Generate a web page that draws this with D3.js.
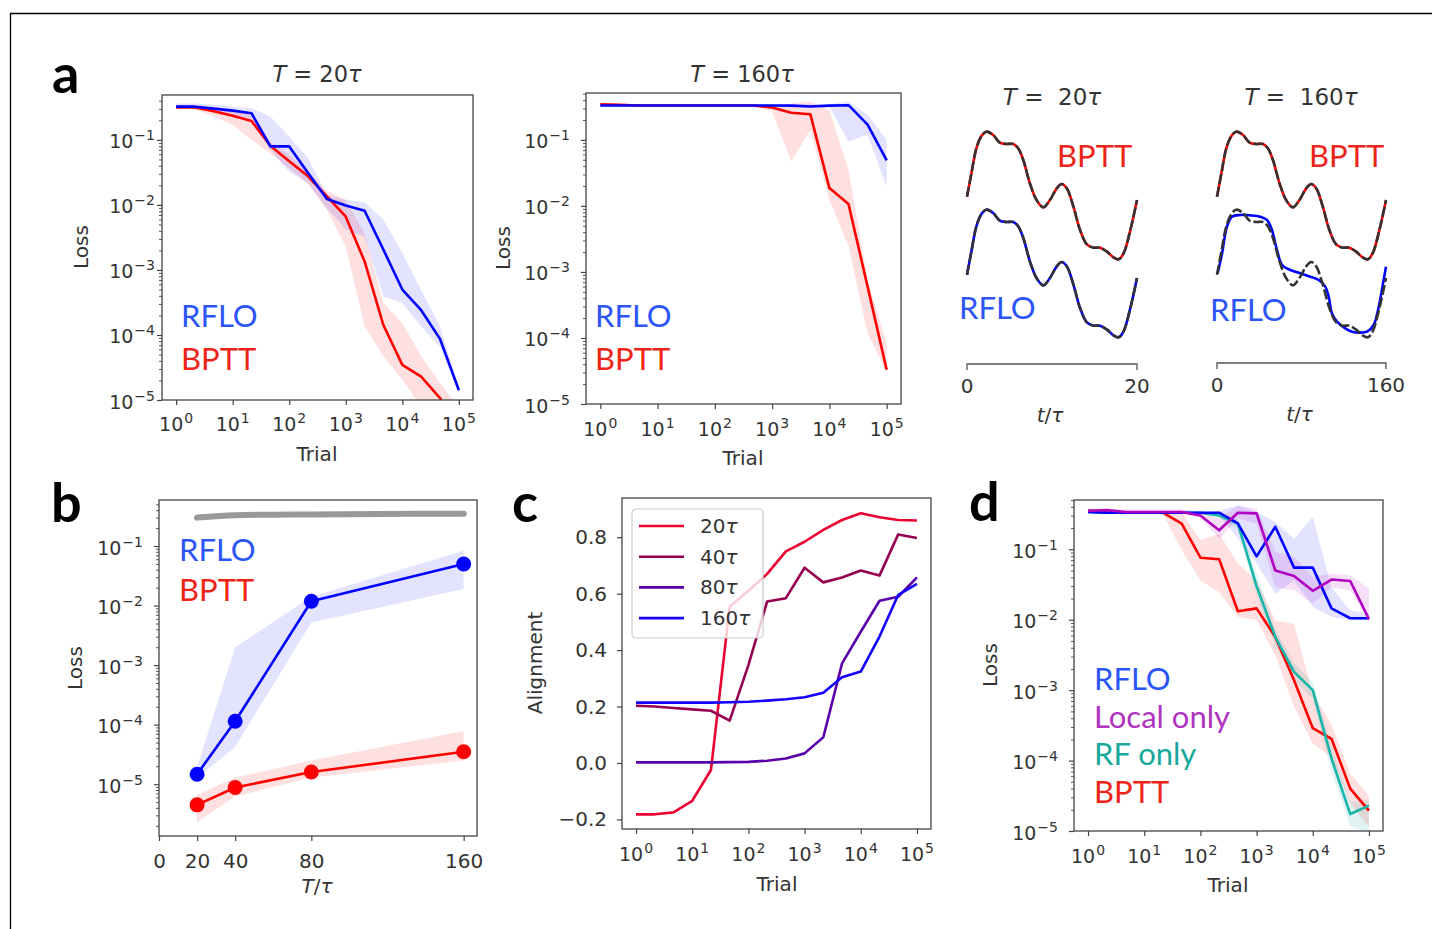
<!DOCTYPE html>
<html>
<head>
<meta charset="utf-8">
<script src="https://cdn.jsdelivr.net/npm/d3@7"></script>
<style>
body { margin: 0; background: #fff; }
svg text { font-family: "DejaVu Sans", sans-serif; fill: #333; }
.tag { font-family: Lato, "Open Sans", sans-serif; }
.letter { font-family: Lato, "Open Sans", sans-serif; font-weight: bold; fill: #000; }
</style>
</head>
<body>
<svg id="fig" width="1432" height="929"></svg>
<script>
// ---- data ----
var trials = [1, 2.154, 4.642, 10, 21.54, 46.42, 100, 215.4, 464.2, 1000, 2154, 4642, 10000, 21544, 46416, 100000];

// a, T = 20 tau
var a20Bptt   = [0.316,0.316,0.275,0.234,0.195,0.0813,0.0468,0.0275,0.0135,0.0066,0.00135,1.41e-4,3.47e-5,2.29e-5,1.07e-5,4.0e-6];
var a20BpttHi = [0.347,0.347,0.309,0.275,0.240,0.0933,0.0589,0.0324,0.0162,0.0120,0.00363,3.1e-4,1.51e-4,4.7e-5,1.82e-5,7.9e-6];
var a20BpttLo = [0.295,0.295,0.229,0.170,0.100,0.0617,0.0363,0.0214,0.00832,0.00229,1.35e-4,4.7e-5,2.04e-5,7.9e-6,4.0e-6,2.5e-6];
var a20Rflo   = [0.324,0.324,0.302,0.282,0.257,0.0794,0.0794,0.0309,0.0123,0.00977,0.00813,0.00204,5.0e-4,2.4e-4,8.7e-5,1.41e-5];
var a20RfloHi = [0.363,0.363,0.347,0.324,0.309,0.229,0.112,0.0525,0.0141,0.0120,0.0110,0.00589,0.00182,4.9e-4,1.35e-4,1.62e-5];
var a20RfloLo = [0.309,0.309,0.275,0.240,0.214,0.0708,0.0324,0.0214,0.00891,0.00417,0.00324,3.9e-4,3.1e-4,1.35e-4,6.6e-5,1.26e-5];

// a, T = 160 tau
var a160Bptt   = [0.347,0.34,0.331,0.331,0.331,0.331,0.331,0.331,0.331,0.309,0.257,0.245,0.0186,0.0107,6.0e-4,3.3e-5];
var a160BpttHi = [0.36,0.355,0.345,0.345,0.345,0.345,0.345,0.345,0.345,0.33,0.355,0.38,0.28,0.035,7.6e-4,8.3e-5];
var a160BpttLo = [0.335,0.325,0.32,0.32,0.32,0.32,0.32,0.32,0.32,0.27,0.047,0.141,0.0123,0.00245,1.17e-4,2.95e-5];
var a160Rflo   = [0.331,0.331,0.331,0.331,0.331,0.331,0.331,0.331,0.331,0.331,0.33,0.32,0.33,0.335,0.170,0.049];
var a160RfloHi = [0.345,0.345,0.345,0.345,0.345,0.345,0.345,0.345,0.345,0.345,0.345,0.345,0.345,0.38,0.24,0.10];
var a160RfloLo = [0.32,0.32,0.32,0.32,0.32,0.32,0.32,0.32,0.32,0.32,0.32,0.32,0.316,0.094,0.12,0.0195];

// a, example outputs (time as fraction of T)
var waveT = [0,0.026,0.055,0.085,0.114,0.154,0.193,0.232,0.272,0.301,0.331,0.370,0.409,0.449,0.488,0.528,0.557,0.587,0.626,0.665,0.705,0.744,0.783,0.823,0.862,0.892,0.921,0.961,1];
var waveY = [1.90,2.60,3.35,3.72,3.85,3.75,3.52,3.48,3.48,3.35,3.00,2.30,1.80,1.58,1.80,2.15,2.28,2.15,1.60,0.90,0.47,0.37,0.37,0.25,0.08,0.02,0.20,0.90,1.80];
var rflo160T = [0.004,0.030,0.059,0.089,0.138,0.197,0.256,0.296,0.325,0.355,0.385,0.434,0.493,0.552,0.602,0.641,0.661,0.680,0.710,0.759,0.799,0.848,0.888,0.927,0.957,0.986,1];
var rflo160Y = [1.94,2.54,3.34,3.64,3.69,3.68,3.64,3.54,3.24,2.64,2.19,2.04,1.94,1.84,1.74,1.54,1.24,0.74,0.49,0.29,0.19,0.16,0.19,0.39,0.94,1.74,2.14];

// b
var bT = [20, 40, 80, 160];
var bTicks = [0, 20, 40, 80, 160];
var bChance = [0.30, 0.33, 0.34, 0.35];
var bRflo   = [1.47e-5, 1.14e-4, 0.0118, 0.050];
var bRfloHi = [1.95e-5, 2.0e-3, 0.014, 0.083];
var bRfloLo = [1.26e-5, 4.2e-5, 0.0052, 0.019];
var bBptt   = [4.5e-6, 8.8e-6, 1.6e-5, 3.5e-5];
var bBpttHi = [6.6e-6, 1.29e-5, 2.5e-5, 7.8e-5];
var bBpttLo = [2.3e-6, 6.2e-6, 1.29e-5, 2.5e-5];

// c
var cNames = ["20", "40", "80", "160"];
var c20  = [-0.182,-0.182,-0.175,-0.134,-0.025,0.554,0.61,0.67,0.75,0.784,0.826,0.861,0.885,0.871,0.861,0.859];
var c40  = [0.203,0.200,0.195,0.190,0.185,0.150,0.347,0.572,0.584,0.692,0.640,0.657,0.682,0.664,0.810,0.797];
var c80  = [0.002,0.002,0.002,0.002,0.002,0.003,0.004,0.008,0.016,0.034,0.091,0.353,0.465,0.575,0.589,0.658];
var c160 = [0.214,0.214,0.214,0.214,0.214,0.215,0.217,0.221,0.226,0.233,0.249,0.304,0.324,0.448,0.596,0.635];
var cTicks = [-0.2, 0, 0.2, 0.4, 0.6, 0.8];

// d
var dBptt    = [0.351,0.331,0.331,0.331,0.331,0.232,0.0759,0.0724,0.0132,0.0145,0.0057,0.00138,2.88e-4,2.04e-4,4.0e-5,1.95e-5];
var dBpttHi  = [0.36,0.34,0.34,0.34,0.34,0.33,0.135,0.166,0.063,0.036,0.0098,0.0087,8.9e-4,3.3e-4,6.5e-5,3.2e-5];
var dBpttLo  = [0.33,0.32,0.32,0.32,0.32,0.097,0.036,0.0245,0.011,0.0098,0.0031,5.8e-4,1.74e-4,1.12e-4,2.45e-5,1.15e-5];
var dRf      = [0.339,0.331,0.331,0.331,0.331,0.331,0.331,0.302,0.232,0.03,0.0057,0.00182,0.001,1.07e-4,1.74e-5,2.29e-5];
var dRfHi    = [0.35,0.34,0.34,0.34,0.34,0.34,0.34,0.32,0.26,0.045,0.0075,0.0024,0.0013,1.6e-4,2.6e-5,2.8e-5];
var dRfLo    = [0.33,0.32,0.32,0.32,0.32,0.32,0.32,0.28,0.2,0.022,0.0043,0.0014,7.5e-4,7.0e-5,1.2e-5,9e-6];
var dRflo    = [0.339,0.331,0.331,0.331,0.331,0.331,0.331,0.331,0.234,0.0794,0.209,0.055,0.055,0.0145,0.0105,0.0105];
var dRfloHi  = [0.35,0.345,0.345,0.345,0.345,0.345,0.345,0.35,0.42,0.339,0.245,0.141,0.288,0.029,0.0135,0.0122];
var dRfloLo  = [0.32,0.32,0.32,0.32,0.32,0.32,0.32,0.31,0.141,0.063,0.0234,0.0363,0.0151,0.011,0.0098,0.0098];
var dLocal   = [0.351,0.36,0.339,0.339,0.339,0.339,0.302,0.186,0.331,0.324,0.050,0.0417,0.0257,0.0372,0.0355,0.0102];
var dLocalHi = [0.37,0.37,0.37,0.37,0.37,0.37,0.34,0.272,0.42,0.38,0.092,0.078,0.0407,0.0448,0.0427,0.0276];
var dLocalLo = [0.33,0.33,0.32,0.32,0.32,0.32,0.28,0.141,0.272,0.232,0.029,0.0263,0.017,0.029,0.0263,0.0098];

// ---- drawing ----
var svg = d3.select("#fig");
var MINUS = "\u2212";

// page frame
svg.append("line").attr("x1", 10).attr("y1", 13.5).attr("x2", 1432).attr("y2", 13.5)
  .attr("stroke", "#000").attr("stroke-width", 1.3);
svg.append("line").attr("x1", 10.5).attr("y1", 13).attr("x2", 10.5).attr("y2", 929)
  .attr("stroke", "#000").attr("stroke-width", 1.3);

function powText(sel, e) {
  sel.append("tspan").text("10");
  sel.append("tspan").attr("dx", 1).attr("dy", -8).attr("font-size", 14).text(e < 0 ? MINUS + (-e) : "" + e);
}

function mathText(sel, parts, size) {
  // parts: [text, italic?]
  parts.forEach(function(p) {
    sel.append("tspan").attr("font-style", p[1] ? "italic" : null).text(p[0]);
  });
  if (size) sel.attr("font-size", size);
}

function frame(g, w, h) {
  g.append("rect").attr("width", w).attr("height", h)
    .attr("fill", "none").attr("stroke", "#444").attr("stroke-width", 1.3);
}

function logXAxis(g, x, h, lblY) {
  var ax = g.append("g").attr("transform", "translate(0," + h + ")")
    .call(d3.axisBottom(x).tickValues([1, 10, 100, 1e3, 1e4, 1e5]).tickSize(5).tickFormat(""));
  ax.select(".domain").remove();
  ax.selectAll("line").attr("stroke", "#444").attr("stroke-width", 1.2);
  [0, 1, 2, 3, 4, 5].forEach(function(k) {
    var t = g.append("text").attr("x", x(Math.pow(10, k))).attr("y", h + lblY)
      .attr("text-anchor", "middle").attr("font-size", 19);
    powText(t, k);
  });
}

function logYAxis(g, y, kmin, kmax, lblX) {
  var dom = y.domain();
  var majors = [], minors = [];
  for (var k = kmin - 1; k <= kmax; k++) {
    var v = Math.pow(10, k);
    if (v >= dom[0] && v <= dom[1] && k >= kmin) majors.push(v);
    for (var m = 2; m <= 9; m++) {
      var mv = m * v;
      if (mv >= dom[0] && mv <= dom[1]) minors.push(mv);
    }
  }
  var ax = g.append("g").call(d3.axisLeft(y).tickValues(majors).tickSize(5).tickFormat(""));
  ax.select(".domain").remove();
  ax.selectAll("line").attr("stroke", "#444").attr("stroke-width", 1.2);
  var ax2 = g.append("g").call(d3.axisLeft(y).tickValues(minors).tickSize(3).tickFormat(""));
  ax2.select(".domain").remove();
  ax2.selectAll("line").attr("stroke", "#444").attr("stroke-width", 0.9);
  majors.forEach(function(v) {
    var t = g.append("text").attr("x", lblX).attr("y", y(v) + 8.5)
      .attr("text-anchor", "end").attr("font-size", 19);
    powText(t, Math.round(Math.log10(v)));
  });
}

function clipGroup(g, id, w, h) {
  g.append("clipPath").attr("id", id).append("rect").attr("width", w).attr("height", h);
  return g.append("g").attr("clip-path", "url(#" + id + ")");
}

function band(plot, xs, lo, hi, x, y, fill) {
  var pts = xs.map(function(t, i) { return [t, lo[i], hi[i]]; });
  plot.append("path").datum(pts).attr("fill", fill)
    .attr("d", d3.area().x(function(d) { return x(d[0]); })
      .y0(function(d) { return y(d[1]); }).y1(function(d) { return y(d[2]); }));
}

function line(plot, xs, ys, x, y, color, w) {
  var pts = xs.map(function(t, i) { return [t, ys[i]]; });
  plot.append("path").datum(pts).attr("fill", "none").attr("stroke", color)
    .attr("stroke-width", w || 2.6).attr("stroke-linejoin", "round")
    .attr("d", d3.line().x(function(d) { return x(d[0]); }).y(function(d) { return y(d[1]); }));
}

function tag(txt, px, py, color) {
  svg.append("text").attr("class", "tag").attr("x", px).attr("y", py)
    .attr("font-size", 31).style("fill", color).text(txt);
}

function letter(txt, px, py) {
  svg.append("text").attr("class", "letter").attr("x", px).attr("y", py)
    .attr("font-size", 54).text(txt);
}

var RED = "#ff0000", BLUE = "#0000ff";
var PINK = "rgba(255,0,0,0.12)", LAV = "rgba(0,0,255,0.11)";
var TAG_BLUE = "#2b55f8", TAG_RED = "#ee2418";

// ---- panel a: loss curves ----
function lossPanel(px, py, w, h, ytop, id, bptt, bHi, bLo, rflo, rHi, rLo, lblY, lblX) {
  var g = svg.append("g").attr("transform", "translate(" + px + "," + py + ")");
  var x = d3.scaleLog().domain([Math.pow(10, -0.25), Math.pow(10, 5.25)]).range([0, w]);
  var y = d3.scaleLog().domain([1e-5, Math.pow(10, ytop)]).range([h, 0]);
  var plot = clipGroup(g, id, w, h);
  band(plot, trials, bLo, bHi, x, y, PINK);
  band(plot, trials, rLo, rHi, x, y, LAV);
  line(plot, trials, bptt, x, y, RED);
  line(plot, trials, rflo, x, y, BLUE);
  frame(g, w, h);
  logXAxis(g, x, h, lblY);
  logYAxis(g, y, -5, -1, lblX);
  return g;
}

lossPanel(162, 95, 311, 305, -0.31, "ca1", a20Bptt, a20BpttHi, a20BpttLo, a20Rflo, a20RfloHi, a20RfloLo, 31, -7);
lossPanel(586, 93, 315, 311, -0.29, "ca2", a160Bptt, a160BpttHi, a160BpttLo, a160Rflo, a160RfloHi, a160RfloLo, 32, -16);

function yLabel(txt, px, py) {
  svg.append("text").attr("transform", "translate(" + px + "," + py + ") rotate(-90)")
    .attr("text-anchor", "middle").attr("font-size", 20).text(txt);
}
function xLabel(txt, px, py) {
  svg.append("text").attr("x", px).attr("y", py).attr("text-anchor", "middle")
    .attr("font-size", 20).text(txt);
}

yLabel("Loss", 88, 247);
yLabel("Loss", 510, 248);
xLabel("Trial", 317, 461);
xLabel("Trial", 743, 465);

var t1 = svg.append("text").attr("x", 317).attr("y", 82).attr("text-anchor", "middle").attr("font-size", 22.5);
mathText(t1, [["T", true], [" = 20", false], ["\u03c4", true]]);
var t2 = svg.append("text").attr("x", 742).attr("y", 82).attr("text-anchor", "middle").attr("font-size", 22.5);
mathText(t2, [["T", true], [" = 160", false], ["\u03c4", true]]);

tag("RFLO", 181, 327, TAG_BLUE);
tag("BPTT", 181, 370, TAG_RED);
tag("RFLO", 595, 327, TAG_BLUE);
tag("BPTT", 595, 370, TAG_RED);
letter("a", 52, 93);

// ---- panel a: example outputs ----
function wavePanel(x0, x1, barY, T, rfloT, rfloY, titleX) {
  var x = d3.scaleLinear().domain([0, 1]).range([x0, x1]);
  var yTop = d3.scaleLinear().domain([0, 3]).range([260, 160]);
  var yBot = d3.scaleLinear().domain([0, 3]).range([338, 238]);
  var curve = d3.curveCatmullRom.alpha(0.5);
  function draw(xs, ys, ysc, color, dash) {
    var pts = xs.map(function(t, i) { return [t, ys[i]]; });
    svg.append("path").datum(pts).attr("fill", "none").attr("stroke", color)
      .attr("stroke-width", 2.6).attr("stroke-dasharray", dash || null)
      .attr("d", d3.line().curve(curve).x(function(d) { return x(d[0]); }).y(function(d) { return ysc(d[1]); }));
  }
  draw(waveT, waveY, yTop, RED);
  draw(waveT, waveY, yTop, "#333", "10,3");
  draw(rfloT, rfloY, yBot, BLUE);
  draw(waveT, waveY, yBot, "#333", "10,3");

  svg.append("path").attr("fill", "none").attr("stroke", "#555").attr("stroke-width", 1.3)
    .attr("d", "M" + x0 + "," + (barY + 6) + "V" + barY + "H" + x1 + "V" + (barY + 6));
  svg.append("text").attr("x", x0).attr("y", barY + 29).attr("text-anchor", "middle").attr("font-size", 20).text("0");
  svg.append("text").attr("x", x1).attr("y", barY + 29).attr("text-anchor", "middle").attr("font-size", 20).text(T);
  var lb = svg.append("text").attr("x", (x0 + x1) / 2 - 2).attr("y", barY + 58).attr("text-anchor", "middle").attr("font-size", 20);
  mathText(lb, [["t", true], ["/", false], ["\u03c4", true]]);
  var tt = svg.append("text").attr("x", titleX).attr("y", 105).attr("text-anchor", "middle")
    .attr("font-size", 23).style("white-space", "pre");
  mathText(tt, [["T", true], [" =  " + T, false], ["\u03c4", true]]);
}

wavePanel(967, 1137, 364, 20, waveT, waveY, 1052);
wavePanel(1217, 1386, 363, 160, rflo160T, rflo160Y, 1301);
tag("BPTT", 1057, 167, TAG_RED);
tag("BPTT", 1309, 167, TAG_RED);
tag("RFLO", 959, 319, TAG_BLUE);
tag("RFLO", 1210, 321, TAG_BLUE);

// ---- panel b ----
(function() {
  var w = 318, h = 336;
  var g = svg.append("g").attr("transform", "translate(159,500)");
  var x = d3.scaleLinear().domain([0, 167]).range([0, w]);
  var y = d3.scaleLog().domain([Math.pow(10, -5.87), Math.pow(10, -0.227)]).range([h, 0]);
  var plot = clipGroup(g, "cb", w, h);
  band(plot, bT, bBpttLo, bBpttHi, x, y, PINK);
  band(plot, bT, bRfloLo, bRfloHi, x, y, LAV);
  var gp = bT.map(function(t, i) { return [t, bChance[i]]; });
  plot.append("path").datum(gp).attr("fill", "none").attr("stroke", "#999").attr("stroke-width", 6)
    .attr("stroke-linecap", "round")
    .attr("d", d3.line().curve(d3.curveMonotoneX).x(function(d) { return x(d[0]); }).y(function(d) { return y(d[1]); }));
  line(plot, bT, bBptt, x, y, RED);
  line(plot, bT, bRflo, x, y, BLUE);
  [[bBptt, RED], [bRflo, BLUE]].forEach(function(s) {
    g.selectAll(null).data(bT).enter().append("circle")
      .attr("cx", function(d) { return x(d); })
      .attr("cy", function(d, i) { return y(s[0][i]); })
      .attr("r", 7.5).attr("fill", s[1]);
  });
  frame(g, w, h);
  var ax = g.append("g").attr("transform", "translate(0," + h + ")")
    .call(d3.axisBottom(x).tickValues(bTicks).tickSize(5).tickPadding(13));
  ax.select(".domain").remove();
  ax.selectAll("line").attr("stroke", "#444").attr("stroke-width", 1.2);
  ax.selectAll("text").attr("font-size", 20).attr("font-family", "DejaVu Sans").attr("fill", "#333");
  logYAxis(g, y, -5, -1, -16);
})();
yLabel("Loss", 82, 668);
var tb = svg.append("text").attr("x", 317).attr("y", 893).attr("text-anchor", "middle").attr("font-size", 20);
mathText(tb, [["T", true], ["/", false], ["\u03c4", true]]);
tag("RFLO", 179, 561, TAG_BLUE);
tag("BPTT", 179, 601, TAG_RED);
letter("b", 51, 522);

// ---- panel c ----
(function() {
  var w = 309, h = 331;
  var g = svg.append("g").attr("transform", "translate(622,498)");
  var x = d3.scaleLog().domain([Math.pow(10, -0.25), Math.pow(10, 5.25)]).range([0, w]);
  var y = d3.scaleLinear().domain([-0.234, 0.939]).range([h, 0]);
  var cols = ["#eb0032", "#960050", "#5a00aa", "#1400ff"];
  var series = [c20, c40, c80, c160];
  var plot = clipGroup(g, "cc", w, h);
  series.forEach(function(s, i) { line(plot, trials, s, x, y, cols[i]); });
  frame(g, w, h);
  logXAxis(g, x, h, 32);
  var ax = g.append("g").call(d3.axisLeft(y).tickValues(cTicks).tickSize(5).tickFormat(""));
  ax.select(".domain").remove();
  ax.selectAll("line").attr("stroke", "#444").attr("stroke-width", 1.2);
  cTicks.forEach(function(v) {
    g.append("text").attr("x", -15).attr("y", y(v) + 7).attr("text-anchor", "end")
      .attr("font-size", 20).text(d3.format(".1f")(v));
  });
  // legend
  var lg = svg.append("g").attr("transform", "translate(632,509)");
  lg.append("rect").attr("width", 131).attr("height", 129).attr("rx", 4)
    .attr("fill", "rgba(255,255,255,0.8)").attr("stroke", "#ccc").attr("stroke-width", 1.2);
  cNames.forEach(function(n, i) {
    var yy = 17 + i * 30.7;
    lg.append("line").attr("x1", 7).attr("x2", 52).attr("y1", yy).attr("y2", yy)
      .attr("stroke", cols[i]).attr("stroke-width", 2.6);
    var t = lg.append("text").attr("x", 68).attr("y", yy + 7).attr("font-size", 20);
    mathText(t, [[n, false], ["\u03c4", true]]);
  });
})();
yLabel("Alignment", 542, 663);
xLabel("Trial", 777, 891);
letter("c", 512, 522);

// ---- panel d ----
(function() {
  var w = 309, h = 331;
  var g = svg.append("g").attr("transform", "translate(1074,500)");
  var x = d3.scaleLog().domain([Math.pow(10, -0.25), Math.pow(10, 5.25)]).range([0, w]);
  var y = d3.scaleLog().domain([1e-5, Math.pow(10, -0.30)]).range([h, 0]);
  var plot = clipGroup(g, "cd", w, h);
  band(plot, trials, dBpttLo, dBpttHi, x, y, PINK);
  band(plot, trials, dRfLo, dRfHi, x, y, "rgba(0,150,140,0.12)");
  band(plot, trials, dRfloLo, dRfloHi, x, y, LAV);
  band(plot, trials, dLocalLo, dLocalHi, x, y, "rgba(170,0,200,0.12)");
  line(plot, trials, dBptt, x, y, RED);
  line(plot, trials, dRf, x, y, "#17b5aa");
  line(plot, trials, dRflo, x, y, BLUE);
  line(plot, trials, dLocal, x, y, "#b000c0");
  frame(g, w, h);
  logXAxis(g, x, h, 32);
  logYAxis(g, y, -5, -1, -16);
})();
yLabel("Loss", 997, 665);
xLabel("Trial", 1228, 892);
tag("RFLO", 1094, 690, TAG_BLUE);
tag("Local only", 1094, 728, "#b032c0");
tag("RF only", 1094, 765, "#18a89c");
tag("BPTT", 1094, 803, TAG_RED);
letter("d", 969, 521);
</script>
</body>
</html>
